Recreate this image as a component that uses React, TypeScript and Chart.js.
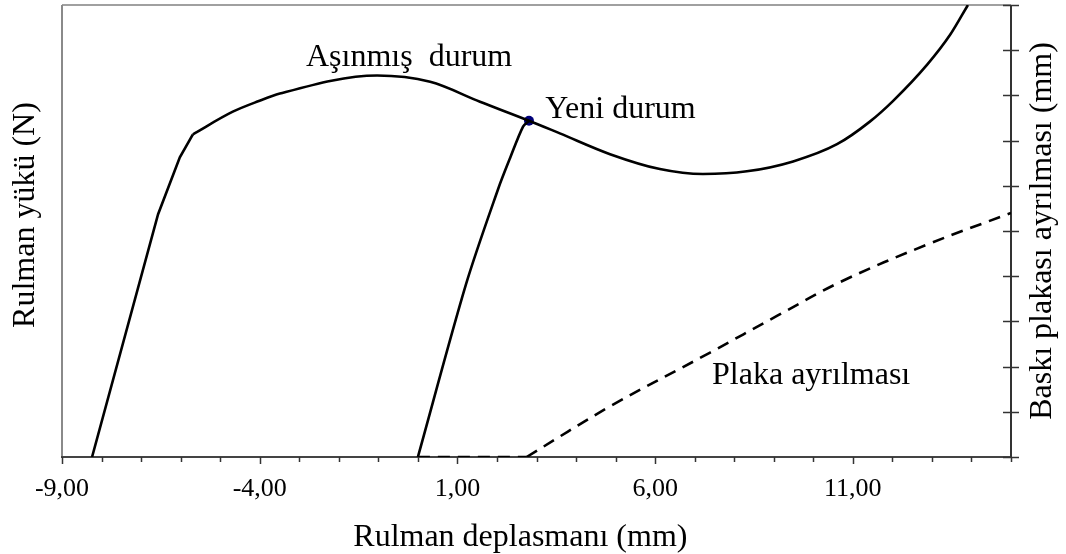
import React, { useEffect, useRef } from 'react';
import { Chart, registerables } from 'chart.js';

Chart.register(...registerables);

// ---- data ----
// Aşınmış durum (worn state) – left axis, bearing load
// steep straight rise
const wornRiseX = [-8.24, -6.57, -6.02, -5.69];
const wornRiseY = [0, 53.7, 66.3, 71.4];
// smooth part
const wornX = [-5.69, -4.68, -4.04, -3.49, -1.03, 0.31, 1.57, 2.81, 3.59, 4.86, 6.12, 7.21, 8.32, 9.49, 10.6, 11.43, 12.02, 12.88, 13.46, 13.91];
const wornY = [71.4, 76.4, 78.7, 80.4, 84.4, 83.0, 78.6, 74.4, 71.6, 67.0, 63.7, 62.6, 63.2, 65.4, 69.2, 74.2, 78.8, 86.8, 93.4, 100];
// Yeni durum (new state) – left axis
const newX = [0.0, 1.22, 2.03, 2.33, 2.66, 2.81];
const newY = [0, 38.3, 59.3, 66.1, 73.1, 74.4];
// Plaka ayrılması (plate separation) – right axis
const sepFlatX = [0.0, 2.75];
const sepFlatY = [0, 0];
const sepX = [2.75, 4.86, 7.39, 9.08, 10.75, 12.88, 15.0];
const sepY = [0, 1.12, 2.31, 3.12, 3.9, 4.7, 5.4];
// junction point of the two curves
const junctionX = [2.81];
const junctionY = [74.4];

// ticks / labels
const xMajorTicks = [-9, -4, 1, 6, 11];
const xTitle = 'Rulman deplasmanı (mm)';
const yLeftTitle = 'Rulman yükü (N)';
const yRightTitle = 'Baskı plakası ayrılması (mm)';
const curveLabels = ['Aşınmış  durum', 'Yeni durum', 'Plaka ayrılması'];
// anchor of each curve label, in left-axis data units (x, y = baseline)
const curveLabelAnchorX = [-2.83, 3.22, 7.44];
const curveLabelAnchorY = [86.6, 75.1, 16.1];

const FONT = '"Liberation Serif", "Times New Roman", serif';

const fmt = (v: number) => v.toFixed(2).replace('.', ',');

const decor = {
  id: 'decor',
  beforeDatasetsDraw(chart: any) {
    const { ctx, chartArea: a, scales } = chart;
    ctx.save();
    // frame
    ctx.lineWidth = 2;
    ctx.strokeStyle = '#a0a0a0';
    ctx.beginPath();
    ctx.moveTo(a.left, a.top); ctx.lineTo(a.right, a.top);
    ctx.stroke();
    ctx.strokeStyle = '#8a8a8a';
    ctx.beginPath();
    ctx.moveTo(a.left, a.top); ctx.lineTo(a.left, a.bottom);
    ctx.stroke();
    ctx.strokeStyle = '#444';
    ctx.beginPath();
    ctx.moveTo(a.left - 1, a.bottom); ctx.lineTo(a.right + 1, a.bottom);
    ctx.stroke();
    ctx.strokeStyle = '#333';
    ctx.beginPath();
    ctx.moveTo(a.right, a.top); ctx.lineTo(a.right, a.bottom + 1);
    ctx.stroke();
    // bottom ticks
    ctx.lineWidth = 1.5;
    ctx.strokeStyle = '#333';
    const xs = scales.x;
    for (let v = xs.min; v <= xs.max + 1e-9; v += 1) {
      const px = Math.round(xs.getPixelForValue(v)) + 0.5;
      const len = xMajorTicks.includes(v) ? 7 : 5;
      ctx.beginPath();
      ctx.moveTo(px, a.bottom);
      ctx.lineTo(px, a.bottom + len);
      ctx.stroke();
    }
    // right axis ticks (crossing)
    const ys = scales.y2;
    for (let v = ys.min; v <= ys.max + 1e-9; v += 1) {
      const py = Math.round(ys.getPixelForValue(v)) + 0.5;
      ctx.beginPath();
      ctx.moveTo(a.right - 8, py);
      ctx.lineTo(a.right + 8, py);
      ctx.stroke();
    }
    ctx.restore();
  },
  afterDatasetsDraw(chart: any) {
    const { ctx, chartArea: a, scales } = chart;
    ctx.save();
    ctx.fillStyle = '#000';
    ctx.font = `32px ${FONT}`;
    // curve labels
    ctx.textAlign = 'left';
    ctx.textBaseline = 'alphabetic';
    curveLabels.forEach((t, i) => {
      ctx.fillText(t, scales.x.getPixelForValue(curveLabelAnchorX[i]), scales.y.getPixelForValue(curveLabelAnchorY[i]));
    });
    // axis titles
    ctx.textAlign = 'center';
    ctx.textBaseline = 'middle';
    ctx.fillText(xTitle, a.left + (a.right - a.left) * 0.483, 538);
    ctx.save();
    ctx.translate(26, 215);
    ctx.rotate(-Math.PI / 2);
    ctx.fillText(yLeftTitle, 0, 0);
    ctx.restore();
    ctx.save();
    ctx.translate(1043, (a.top + a.bottom) / 2);
    ctx.rotate(-Math.PI / 2);
    ctx.fillText(yRightTitle, 0, 0);
    ctx.restore();
    ctx.restore();
  },
};

const pts = (xs: number[], ys: number[]) => xs.map((x, i) => ({ x, y: ys[i] }));

const line = (label: string, data: any[], axis: string, tension: number, monotone = false) => ({
  label,
  data,
  yAxisID: axis,
  borderColor: '#000',
  borderWidth: 2.6,
  pointRadius: 0,
  tension,
  cubicInterpolationMode: monotone ? 'monotone' : 'default',
  fill: false,
});

export default function App() {
  const ref = useRef<HTMLCanvasElement>(null);
  useEffect(() => {
    const chart = new Chart(ref.current!, {
      type: 'line',
      data: {
        datasets: [
          line('Aşınmış durum (rise)', pts(wornRiseX, wornRiseY), 'y', 0),
          line('Aşınmış durum', pts(wornX, wornY), 'y', 0, true),
          line('Yeni durum', pts(newX, newY), 'y', 0.3),
          { ...line('Plaka ayrılması (flat)', pts(sepFlatX, sepFlatY), 'y2', 0), borderDash: [12, 8] },
          { ...line('Plaka ayrılması', pts(sepX, sepY), 'y2', 0.35), borderDash: [12, 8] },
          {
            label: 'junction',
            data: pts(junctionX, junctionY),
            yAxisID: 'y',
            showLine: false,
            pointRadius: 5,
            pointBackgroundColor: '#00007a',
            pointBorderColor: '#00007a',
            pointBorderWidth: 0,
          },
        ],
      },
      options: {
        responsive: false,
        animation: false,
        layout: { padding: { left: 62, right: 55, top: 3, bottom: 0 } },
        plugins: { legend: { display: false }, tooltip: { enabled: false } },
        scales: {
          x: {
            type: 'linear',
            position: 'bottom',
            min: -9,
            max: 15,
            afterFit: (s: any) => { s.height = 97; },
            grid: { display: false },
            border: { display: false },
            ticks: {
              stepSize: 1,
              autoSkip: false,
              maxRotation: 0,
              padding: 9,
              color: '#000',
              font: { family: FONT, size: 26 },
              callback: (v: any) => (xMajorTicks.includes(Number(v)) ? fmt(Number(v)) : ''),
            },
          },
          y: { type: 'linear', min: 0, max: 100, display: false },
          y2: { type: 'linear', position: 'right', min: 0, max: 10, display: false },
        },
      } as any,
      plugins: [decor],
    });
    return () => chart.destroy();
  }, []);
  return (
    <div style={{ position: 'fixed', left: 0, top: 0, width: 1066, height: 554, background: '#fff' }}>
      <canvas ref={ref} width={1066} height={554} style={{ display: 'block' }} />
    </div>
  );
}
